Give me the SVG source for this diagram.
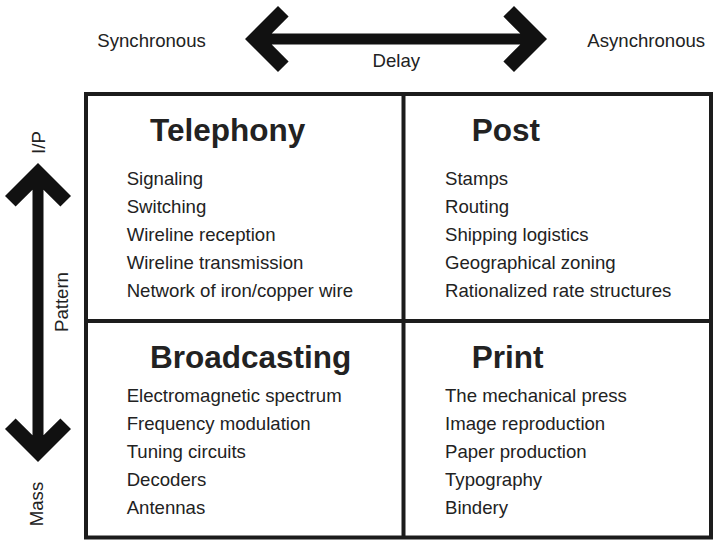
<svg xmlns="http://www.w3.org/2000/svg" width="714" height="541" viewBox="0 0 714 541">
<style>
  text { font-family: "Liberation Sans", Arial, Helvetica, sans-serif; fill: #222; }
  .lbl { font-size: 18.6px; }
  .title { font-size: 31.5px; font-weight: bold; }
  .frame { fill: none; stroke: #1c1c1c; stroke-width: 4; }
  .arrow { fill: #111; }
</style>
<rect width="714" height="541" fill="#fff"/>
<g id="axes">
  <polygon class="arrow" points="245,39 278,6 288.6,16.6 271.7,33.5 520.3,33.5 503.4,16.6 514,6 547,39 514,72 503.4,61.4 520.3,44.5 271.7,44.5 288.6,61.4 278,72"/>
  <polygon class="arrow" points="38,163 71,196 60.4,206.6 43.5,189.7 43.5,435.3 60.4,418.4 71,429 38,462 5,429 15.6,418.4 32.5,435.3 32.5,189.7 15.6,206.6 5,196"/>
  <text class="lbl" x="97.3" y="46.7">Synchronous</text>
  <text class="lbl" x="587.3" y="46.7">Asynchronous</text>
  <text class="lbl" x="396.3" y="66.7" text-anchor="middle">Delay</text>
  <text class="lbl" x="44.5" y="142.5" text-anchor="middle" transform="rotate(-90 44.5 142.5)">I/P</text>
  <text class="lbl" x="68" y="302" text-anchor="middle" transform="rotate(-90 68 302)">Pattern</text>
  <text class="lbl" x="43" y="504" text-anchor="middle" transform="rotate(-90 43 504)">Mass</text>
</g>
<g id="grid">
  <rect class="frame" x="86" y="94" width="625" height="443.5"/>
  <line class="frame" x1="403.5" y1="94" x2="403.5" y2="537.5"/>
  <line class="frame" x1="86" y1="321" x2="711" y2="321"/>
</g>
<g id="telephony">
  <text class="title" x="150" y="141">Telephony</text>
  <text class="lbl" x="126.7" y="185">Signaling</text>
  <text class="lbl" x="126.7" y="213">Switching</text>
  <text class="lbl" x="126.7" y="241">Wireline reception</text>
  <text class="lbl" x="126.7" y="269">Wireline transmission</text>
  <text class="lbl" x="126.7" y="297">Network of iron/copper wire</text>
</g>
<g id="post">
  <text class="title" x="471.7" y="141">Post</text>
  <text class="lbl" x="445" y="185">Stamps</text>
  <text class="lbl" x="445" y="213">Routing</text>
  <text class="lbl" x="445" y="241">Shipping logistics</text>
  <text class="lbl" x="445" y="269">Geographical zoning</text>
  <text class="lbl" x="445" y="297">Rationalized rate structures</text>
</g>
<g id="broadcasting">
  <text class="title" x="150" y="367.5">Broadcasting</text>
  <text class="lbl" x="126.7" y="402">Electromagnetic spectrum</text>
  <text class="lbl" x="126.7" y="430">Frequency modulation</text>
  <text class="lbl" x="126.7" y="458">Tuning circuits</text>
  <text class="lbl" x="126.7" y="486">Decoders</text>
  <text class="lbl" x="126.7" y="514">Antennas</text>
</g>
<g id="print">
  <text class="title" x="471.7" y="367.5">Print</text>
  <text class="lbl" x="445" y="402">The mechanical press</text>
  <text class="lbl" x="445" y="430">Image reproduction</text>
  <text class="lbl" x="445" y="458">Paper production</text>
  <text class="lbl" x="445" y="486">Typography</text>
  <text class="lbl" x="445" y="514">Bindery</text>
</g>
</svg>
